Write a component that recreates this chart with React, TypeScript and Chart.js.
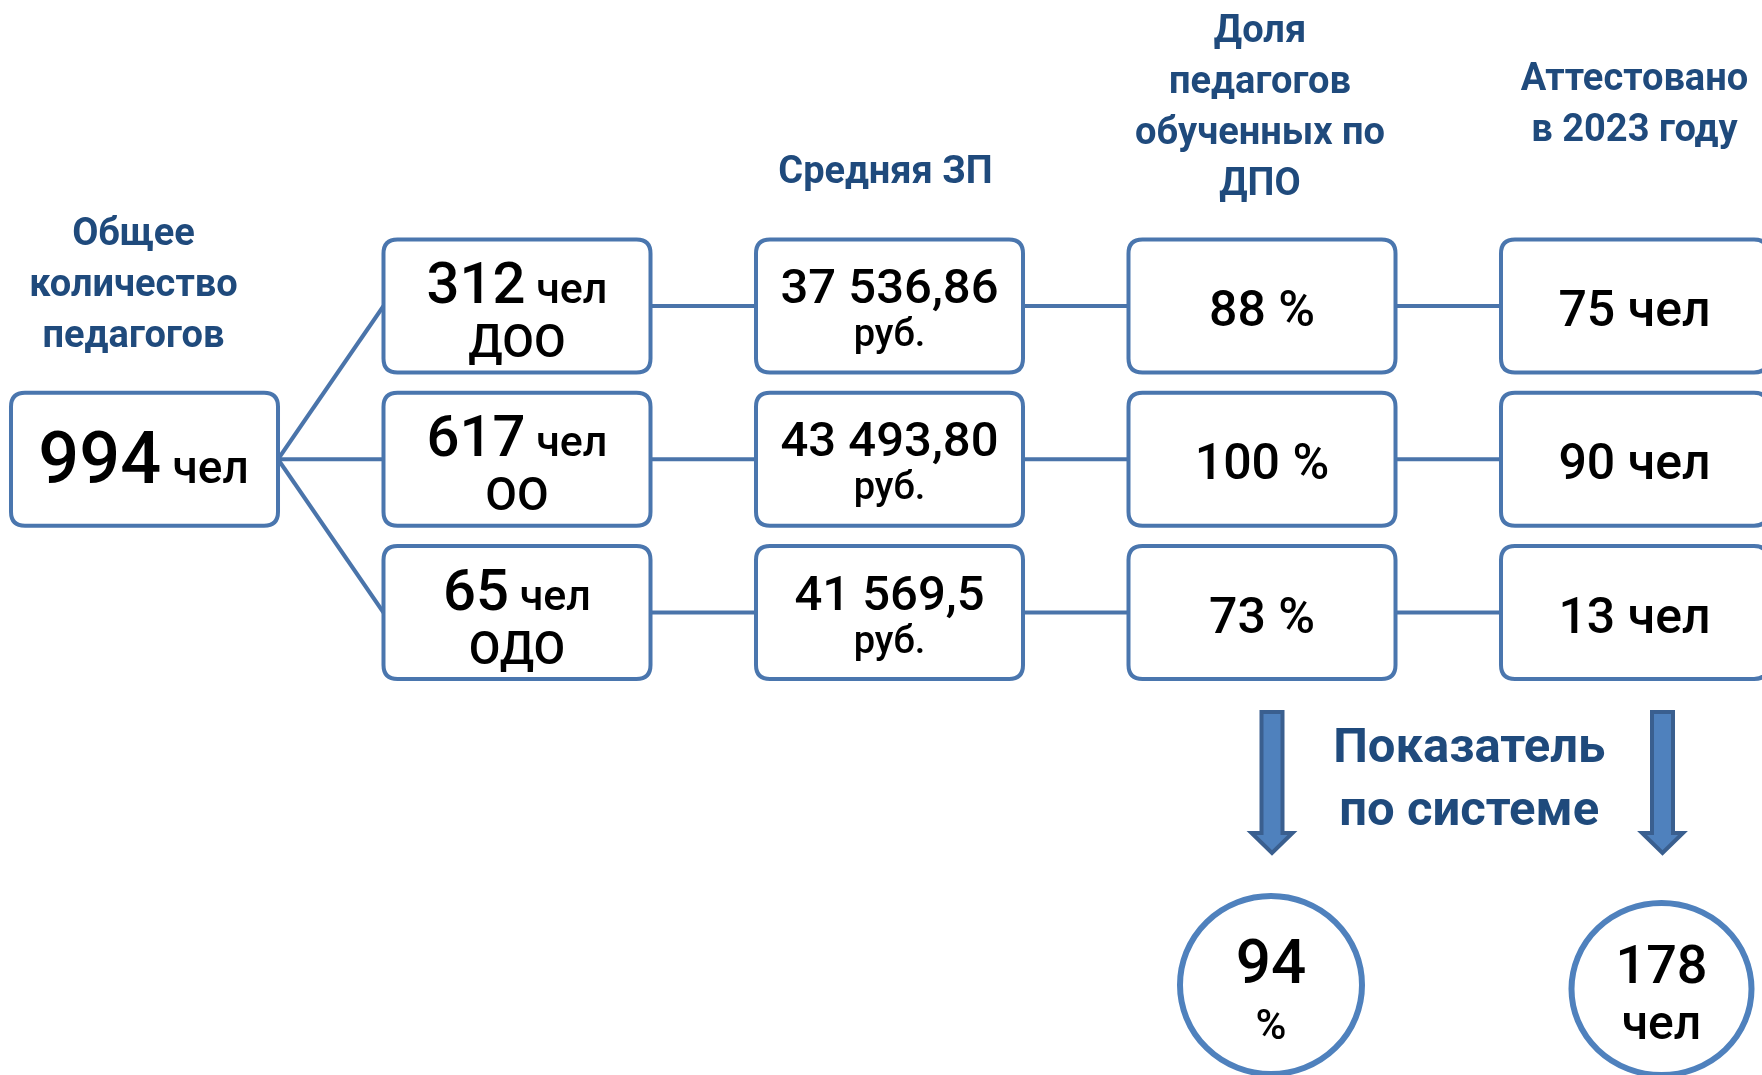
import { useEffect, useRef } from "react";
import { Chart, registerables } from "chart.js";

Chart.register(...registerables);

const W = 1762;
const H = 1075;

// ---- data ----
const groups = ["ДОО", "ОО", "ОДО"];
const teachers = [312, 617, 65];
const totalTeachers = 994;
const avgSalary = ["37 536,86", "43 493,80", "41 569,5"];
const dpoShare = [88, 100, 73];
const certified = [75, 90, 13];
const systemDpo = 94;
const systemCertified = 178;
const unitPeople = "чел";
const unitRub = "руб.";
const headerTotal = ["Общее", "количество", "педагогов"];
const headerSalary = ["Средняя ЗП"];
const headerDpo = ["Доля", "педагогов", "обученных по", "ДПО"];
const headerCert = ["Аттестовано", "в 2023 году"];
const systemLabel = ["Показатель", "по системе"];

// ---- style ----
const FONT = "Roboto, 'Noto Sans', sans-serif";
const BORDER = "#4A76AE";
const LINE = "#4A74AA";
const TITLE = "#1F4A7C";
const ARROW_FILL = "#4F81BD";
const ARROW_EDGE = "#3A5F8F";
const HW = 0.3584; // half box width in column units
const HH = 0.434; // half box height in row units

type Part = { t: string; size: number; weight?: number };

function drawParts(ctx: CanvasRenderingContext2D, parts: Part[], cx: number, baseline: number, color = "#000") {
  let total = 0;
  const widths = parts.map((p) => {
    ctx.font = `${p.weight ?? 500} ${p.size}px ${FONT}`;
    const w = ctx.measureText(p.t).width;
    total += w;
    return w;
  });
  let x = cx - total / 2;
  ctx.fillStyle = color;
  ctx.textAlign = "left";
  ctx.textBaseline = "alphabetic";
  parts.forEach((p, i) => {
    ctx.font = `${p.weight ?? 500} ${p.size}px ${FONT}`;
    ctx.fillText(p.t, x, baseline);
    x += widths[i];
  });
}

function roundRect(ctx: CanvasRenderingContext2D, x: number, y: number, w: number, h: number, r: number) {
  ctx.beginPath();
  ctx.moveTo(x + r, y);
  ctx.lineTo(x + w - r, y);
  ctx.quadraticCurveTo(x + w, y, x + w, y + r);
  ctx.lineTo(x + w, y + h - r);
  ctx.quadraticCurveTo(x + w, y + h, x + w - r, y + h);
  ctx.lineTo(x + r, y + h);
  ctx.quadraticCurveTo(x, y + h, x, y + h - r);
  ctx.lineTo(x, y + r);
  ctx.quadraticCurveTo(x, y, x + r, y);
  ctx.closePath();
}

const diagramPlugin = {
  id: "diagram",
  afterDatasetsDraw(chart: any) {
    const ctx: CanvasRenderingContext2D = chart.ctx;
    const xs = chart.scales.x;
    const ys = chart.scales.y;
    const px = (v: number) => xs.getPixelForValue(v);
    const py = (v: number) => ys.getPixelForValue(v);

    const box = (c: number, r: number) => {
      const l = px(c - HW), rr = px(c + HW);
      const t = Math.min(py(r - HH), py(r + HH)), b = Math.max(py(r - HH), py(r + HH));
      ctx.save();
      roundRect(ctx, l, t, rr - l, b - t, 14);
      ctx.fillStyle = "#fff";
      ctx.fill();
      ctx.lineWidth = 4;
      ctx.strokeStyle = BORDER;
      ctx.stroke();
      ctx.restore();
      return { cx: (l + rr) / 2, cy: (t + b) / 2 };
    };

    ctx.save();
    // main box
    const m = box(0, 1);
    drawParts(ctx, [{ t: String(totalTeachers), size: 72 }, { t: " " + unitPeople, size: 46 }], m.cx - 1, m.cy + 24);

    for (let r = 0; r < 3; r++) {
      const b1 = box(1, r);
      drawParts(ctx, [{ t: String(teachers[r]), size: 58 }, { t: " " + unitPeople, size: 43 }], b1.cx, b1.cy - 3);
      drawParts(ctx, [{ t: groups[r], size: 46 }], b1.cx, b1.cy + 51);

      const b2 = box(2, r);
      drawParts(ctx, [{ t: avgSalary[r], size: 49 }], b2.cx, b2.cy - 3);
      drawParts(ctx, [{ t: unitRub, size: 38 }], b2.cx, b2.cy + 40);

      const b3 = box(3, r);
      drawParts(ctx, [{ t: dpoShare[r] + " %", size: 50 }], b3.cx, b3.cy + 20);

      const b4 = box(4, r);
      drawParts(ctx, [{ t: certified[r] + " " + unitPeople, size: 50 }], b4.cx, b4.cy + 20);
    }

    // headers
    const head = (lines: string[], cx: number, firstBaseline: number) => {
      lines.forEach((ln, i) => drawParts(ctx, [{ t: ln, size: 38, weight: 700 }], cx, firstBaseline + i * 51, TITLE));
    };
    head(headerTotal, px(0) - 11, 245);
    head(headerSalary, px(2) - 4, 183);
    head(headerDpo, px(3) - 2, 42);
    head(headerCert, px(4), 90);

    // arrows
    const arrow = (cx: number) => {
      const top = 712, headTop = 833, tip = 853, sw = 10.5, hw = 20.5;
      ctx.beginPath();
      ctx.moveTo(cx - sw, top);
      ctx.lineTo(cx + sw, top);
      ctx.lineTo(cx + sw, headTop);
      ctx.lineTo(cx + hw, headTop);
      ctx.lineTo(cx, tip);
      ctx.lineTo(cx - hw, headTop);
      ctx.lineTo(cx - sw, headTop);
      ctx.closePath();
      ctx.fillStyle = ARROW_FILL;
      ctx.fill();
      ctx.lineWidth = 4;
      ctx.strokeStyle = ARROW_EDGE;
      ctx.lineJoin = "miter";
      ctx.stroke();
    };
    const a1 = px(3) + 10;
    const a2 = px(4) + 28;
    arrow(a1);
    arrow(a2);

    systemLabel.forEach((ln, i) => drawParts(ctx, [{ t: ln, size: 49, weight: 700 }], (a1 + a2) / 2 + 2, 762 + i * 63, TITLE));

    // circles
    const ell = (cx: number, cy: number, rx: number, ry: number) => {
      ctx.beginPath();
      ctx.ellipse(cx, cy, rx, ry, 0, 0, Math.PI * 2);
      ctx.fillStyle = "#fff";
      ctx.fill();
      ctx.lineWidth = 6;
      ctx.strokeStyle = ARROW_FILL;
      ctx.stroke();
    };
    ell(a1 - 1, 985, 91, 89);
    ell(a2 - 1, 989, 90, 86);
    drawParts(ctx, [{ t: String(systemDpo), size: 62 }], a1 - 1, 983);
    drawParts(ctx, [{ t: "%", size: 42 }], a1 - 1, 1039);
    drawParts(ctx, [{ t: String(systemCertified), size: 54 }], a2 - 1, 983);
    drawParts(ctx, [{ t: unitPeople, size: 48 }], a2 - 1, 1039);

    ctx.restore();
  },
};

export default function App() {
  const ref = useRef<HTMLCanvasElement>(null);
  useEffect(() => {
    if (!ref.current) return;
    const fan = [0, 1, 2].map((r) => ({
      data: [
        { x: 0 + HW, y: 1 },
        { x: 1 - HW, y: r },
      ],
    }));
    const rows = [0, 1, 2].map((r) => ({
      data: [
        { x: 1, y: r },
        { x: 4, y: r },
      ],
    }));
    const datasets = [...fan, ...rows].map((d, i) => ({
      label: "link" + i,
      data: d.data,
      showLine: true,
      borderColor: LINE,
      borderWidth: 4,
      pointRadius: 0,
      fill: false,
    }));
    const chart = new Chart(ref.current, {
      type: "scatter",
      data: { datasets },
      options: {
        responsive: false,
        animation: false,
        devicePixelRatio: 1,
        layout: { padding: 0 },
        plugins: { legend: { display: false }, tooltip: { enabled: false } },
        scales: {
          x: { type: "linear", display: false, min: -0.38792, max: 4.34228 },
          y: { type: "linear", display: false, reverse: true, min: -1.99674, max: 5.01794 },
        },
      },
      plugins: [diagramPlugin],
    });
    return () => chart.destroy();
  }, []);
  return (
    <div style={{ position: "fixed", left: 0, top: 0, width: W, height: H, background: "#fff" }}>
      <canvas ref={ref} width={W} height={H} style={{ display: "block", width: W, height: H }} />
    </div>
  );
}
